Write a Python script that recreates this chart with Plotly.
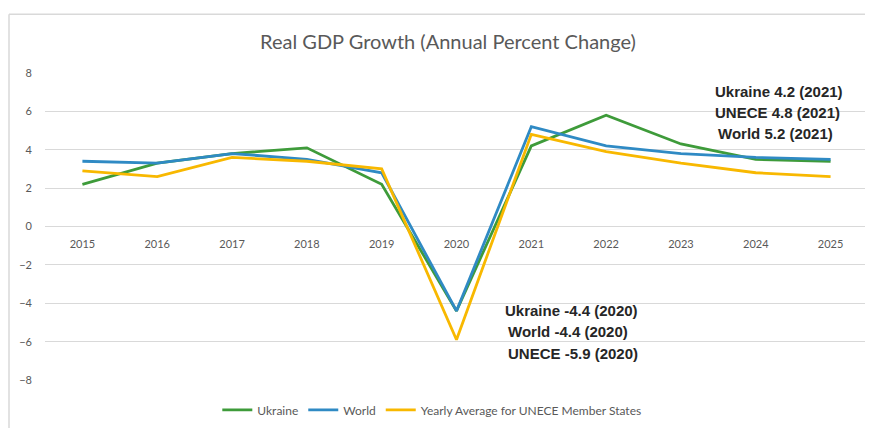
import plotly.graph_objects as go

years = ["2015", "2016", "2017", "2018", "2019", "2020", "2021", "2022", "2023", "2024", "2025"]
ukraine = [2.2, 3.3, 3.8, 4.1, 2.2, -4.4, 4.2, 5.8, 4.3, 3.5, 3.4]
world = [3.4, 3.3, 3.8, 3.5, 2.8, -4.4, 5.2, 4.2, 3.8, 3.6, 3.5]
unece = [2.9, 2.6, 3.6, 3.4, 3.0, -5.9, 4.8, 3.9, 3.3, 2.8, 2.6]
y_ticks = [-8, -6, -4, -2, 0, 2, 4, 6, 8]

series = [
    ("Ukraine", ukraine, "#3e9b3a"),
    ("World", world, "#2f8ac4"),
    ("Yearly Average for UNECE Member States", unece, "#f8b800"),
]

fig = go.Figure()
for name, vals, color in series:
    fig.add_trace(go.Scatter(x=years, y=vals, mode="lines", name=name,
                             line=dict(color=color, width=2.8)))

ann_font = dict(family="Liberation Sans, Arial, sans-serif", size=15, color="#262626")
notes_top = [("<b>Ukraine 4.2 (2021)</b>", 7.05, 0.8117),
             ("<b>UNECE 4.8 (2021)</b>", 5.93, 0.8117),
             ("<b>World 5.2 (2021)</b>", 4.85, 0.815)]
notes_bot = [("<b>Ukraine -4.4 (2020)</b>", -4.38, 0.557),
             ("<b>World -4.4 (2020)</b>", -5.47, 0.560),
             ("<b>UNECE -5.9 (2020)</b>", -6.6, 0.560)]
for text, yv, xp in notes_top + notes_bot:
    fig.add_annotation(text=text, x=xp, xref="paper", y=yv, yref="y",
                       xanchor="left", yanchor="middle", showarrow=False, font=ann_font)

tick_font = dict(family="Lato, sans-serif", size=11, color="#595959")

fig.update_layout(
    width=865, height=420,
    margin=dict(l=37, r=5, t=64, b=46),
    paper_bgcolor="white", plot_bgcolor="white",
    title=dict(text="Real GDP Growth (Annual Percent Change)",
               font=dict(family="Lato, Open Sans, sans-serif", size=20, color="#595959"),
               x=440 / 865, xanchor="center", y=1 - 34 / 420, yanchor="middle"),
    xaxis=dict(type="category", categoryorder="array", categoryarray=years,
               range=[-0.5, 10.5],
               anchor="free", position=0.5, showline=False, showgrid=False,
               zeroline=False, ticks="", tickfont=tick_font,
               ticklabelstandoff=9),
    yaxis=dict(range=[-8.05, 8.05], tickvals=y_ticks, showgrid=True, gridcolor="#d9d9d9",
               gridwidth=1, zeroline=True, zerolinecolor="#d9d9d9", zerolinewidth=1,
               showline=False, ticks="", tickfont=tick_font,
               ticklabelstandoff=12),
    legend=dict(orientation="h", x=0.47, xanchor="center", y=-0.09, yanchor="middle",
                font=dict(family="Lato, sans-serif", size=12, color="#595959"),
                itemwidth=30, tracegroupgap=0),
    showlegend=True,
)

# outer frame (top and left edges visible in the reference)
fig.add_shape(type="line", xref="paper", yref="paper",
              x0=-36 / 823, x1=1.01, y0=1 + 58 / 310, y1=1 + 58 / 310,
              line=dict(color="#d9d9d9", width=1.5))
fig.add_shape(type="line", xref="paper", yref="paper",
              x0=-36 / 823, x1=-36 / 823, y0=1 + 58 / 310, y1=-0.2,
              line=dict(color="#d9d9d9", width=1.5))

fig.write_html("out.html")
